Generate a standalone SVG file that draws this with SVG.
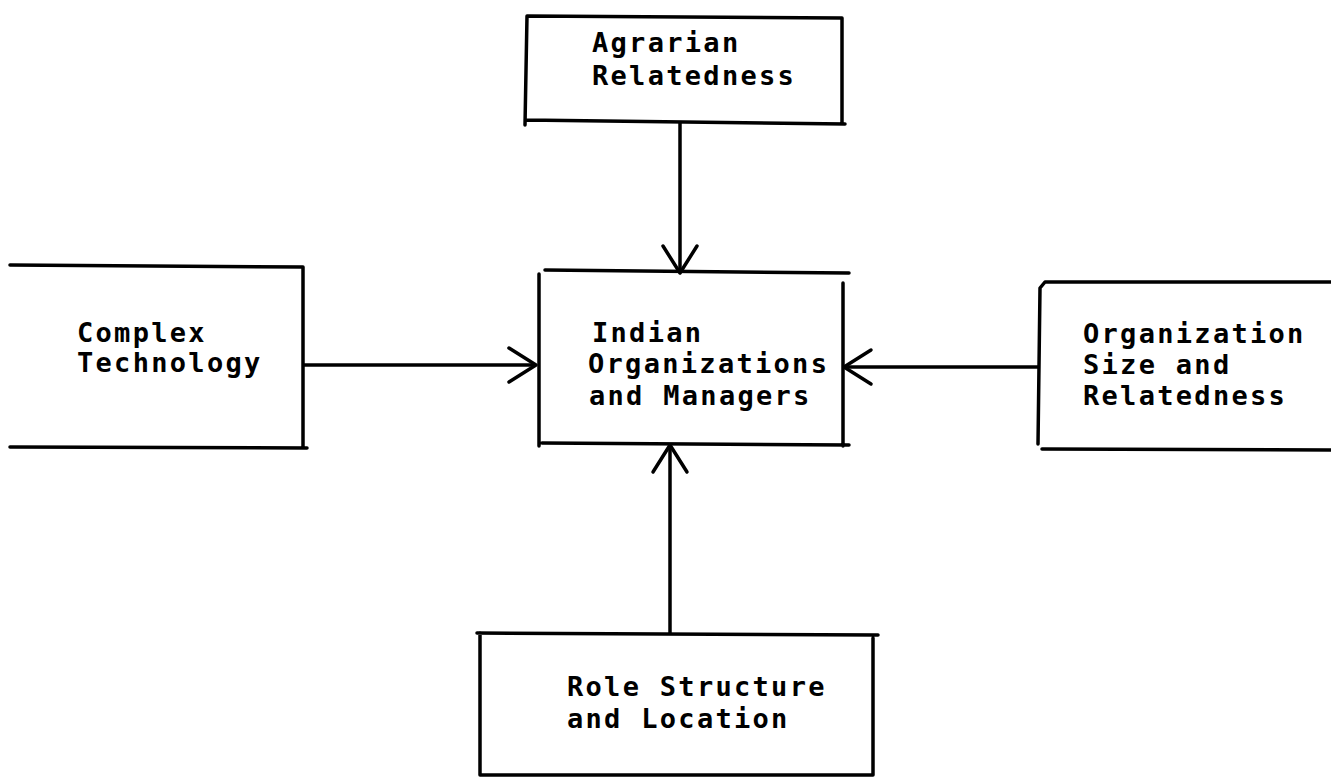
<svg xmlns="http://www.w3.org/2000/svg" width="1331" height="779" viewBox="0 0 1331 779">
<style>
.box{fill:none;stroke:#000;stroke-width:3.5;stroke-linecap:round;stroke-linejoin:round}
.con{fill:none;stroke:#000;stroke-width:3.5}
.t{font-family:"DejaVu Sans Mono","Liberation Mono",monospace;font-size:27px;letter-spacing:2.3px;fill:#000;font-weight:bold}
</style>
<defs>
<marker id="ah" markerUnits="userSpaceOnUse" markerWidth="40" markerHeight="40" viewBox="-30 -20 40 40" refX="0" refY="0" orient="auto">
<path d="M-27,-17 L0,0 L-27,17" fill="none" stroke="#000" stroke-width="3.5" stroke-linecap="round" stroke-linejoin="round"/>
</marker>
</defs>
<rect width="1331" height="779" fill="#fff"/>
<g id="connectors">
<line class="con" x1="680" y1="123" x2="680" y2="273" marker-end="url(#ah)"/>
<line class="con" x1="303" y1="365" x2="536" y2="365" marker-end="url(#ah)"/>
<line class="con" x1="1040" y1="367" x2="844" y2="367" marker-end="url(#ah)"/>
<line class="con" x1="670" y1="633" x2="670" y2="445" marker-end="url(#ah)"/>
</g>
<g id="agrarian">
<path class="box" d="M525,125 L527,16 L842,18 L842,124 M525,120 L845,124"/>
<text class="t" x="592" y="52">Agrarian</text>
<text class="t" x="592" y="85">Relatedness</text>
</g>
<g id="complex">
<path class="box" d="M10,265 L303,267 L303,448 M10,447 L307,448"/>
<text class="t" x="77" y="342">Complex</text>
<text class="t" x="77" y="372">Technology</text>
</g>
<g id="indian">
<path class="box" d="M545,270 L849,273 M539,274 L539,446 M542,443 L849,445 M843,283 L843,446"/>
<text class="t" x="592" y="342">Indian</text>
<text class="t" x="588" y="373">Organizations</text>
<text class="t" x="589" y="405">and Managers</text>
</g>
<g id="orgsize">
<path class="box" d="M1331,282 L1045,282 L1040,288 L1038,444 M1042,449 L1331,450"/>
<text class="t" x="1083" y="343">Organization</text>
<text class="t" x="1083" y="374">Size and</text>
<text class="t" x="1083" y="405">Relatedness</text>
</g>
<g id="role">
<path class="box" d="M477,633 L878,635 M480,633 L480,775 L873,775 L873,638"/>
<text class="t" x="567" y="696">Role Structure</text>
<text class="t" x="567" y="728">and Location</text>
</g>
</svg>
